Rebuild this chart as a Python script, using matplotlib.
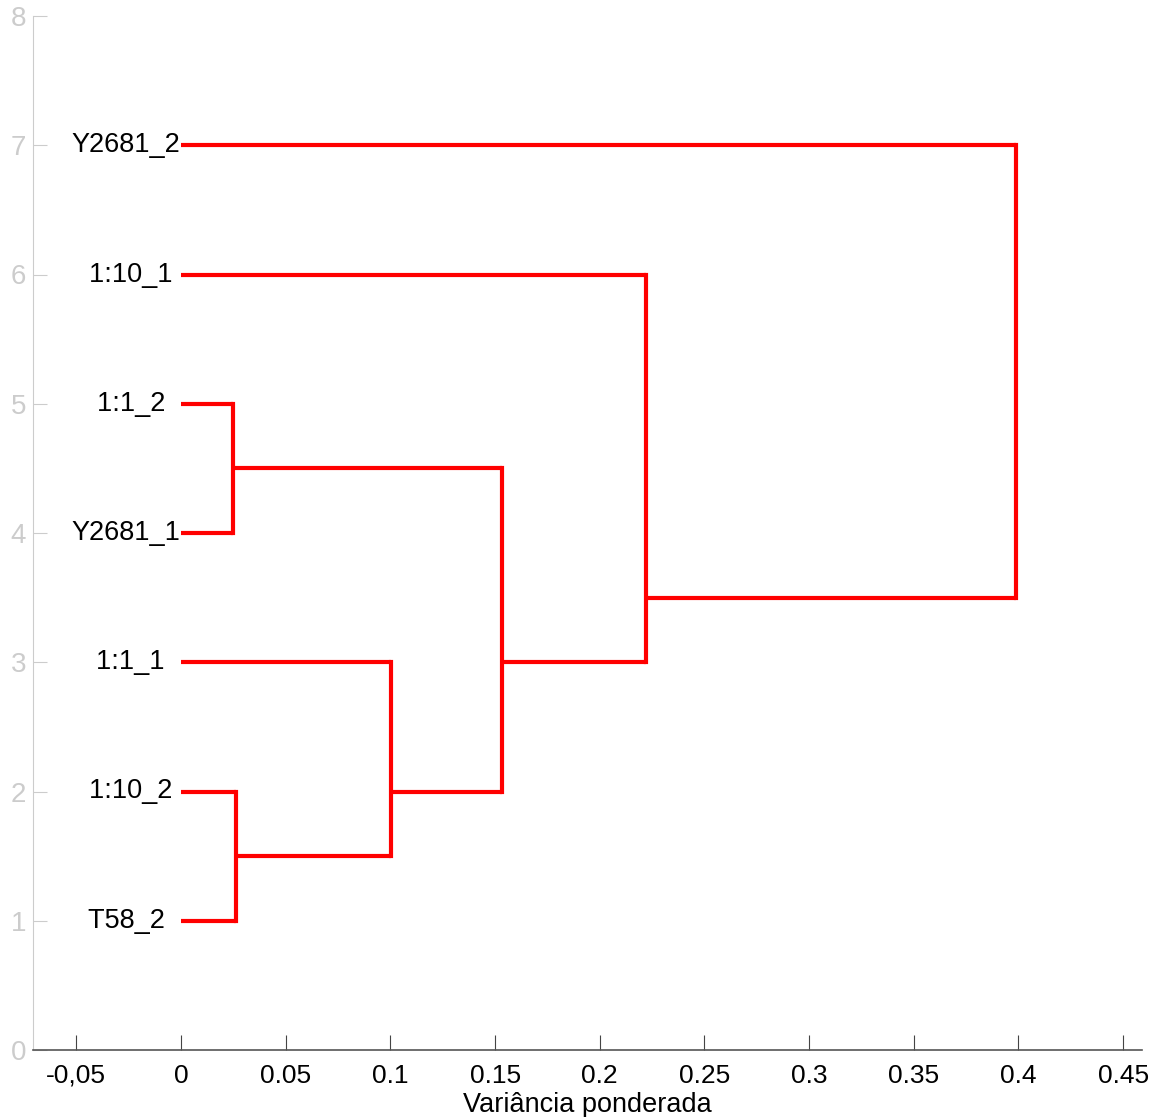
import matplotlib
matplotlib.use("Agg")
import matplotlib.pyplot as plt

plt.rcParams["font.family"] = ["Liberation Sans", "DejaVu Sans"]

# folhas, de baixo para cima (posições 1..7)
leaf_names = ["T58_2", "1:10_2", "1:1_1", "Y2681_1", "1:1_2", "1:10_1", "Y2681_2"]

# agrupamentos: (filho a, filho b, altura); ids >= 7 são clusters formados antes
merge_a = [0, 3, 7, 9, 10, 11]
merge_b = [1, 4, 2, 8, 5, 6]
merge_h = [0.0263, 0.0248, 0.1003, 0.1533, 0.2221, 0.3988]

xticks = [-0.05, 0, 0.05, 0.1, 0.15, 0.2, 0.25, 0.3, 0.35, 0.4, 0.45]
xtick_labels = ["-0,05", "0", "0.05", "0.1", "0.15", "0.2", "0.25", "0.3", "0.35", "0.4", "0.45"]

n = len(leaf_names)
members = {i: [i + 1] for i in range(n)}
height = {i: 0.0 for i in range(n)}

def node_y(k):
    return sum(members[k]) / len(members[k])

fig = plt.figure(figsize=(11.56, 11.17), dpi=100)
ax = fig.add_axes([33 / 1156, 1 - 1050 / 1117, (1142 - 33) / 1156, (1050 - 16) / 1117])

red = "#ff0000"
for j, (a, b, h) in enumerate(zip(merge_a, merge_b, merge_h)):
    k = n + j
    ya, yb = node_y(a), node_y(b)
    ax.plot([height[a], h], [ya, ya], color=red, lw=3, solid_capstyle="butt")
    ax.plot([height[b], h], [yb, yb], color=red, lw=3, solid_capstyle="butt")
    ax.plot([h, h], [ya, yb], color=red, lw=3, solid_capstyle="projecting")
    members[k] = members[a] + members[b]
    height[k] = h

# rótulos das folhas, preenchidos com espaços à direita
for i, name in enumerate(leaf_names):
    ax.text(-0.0005, i + 1, name.ljust(7), ha="right", va="center", fontsize=19.5)

ax.set_xlim(-0.0707, 0.459)
ax.set_ylim(0, 8)
ax.set_xticks(xticks)
ax.set_xticklabels(xtick_labels)
ax.set_yticks(range(9))
ax.tick_params(axis="y", direction="in", length=10, color="#cccccc", labelcolor="#cccccc",
               labelsize=20, pad=5)
ax.tick_params(axis="x", direction="in", length=11, color="#444444", labelcolor="black",
               labelsize=19, pad=10)
for s in ["top", "right"]:
    ax.spines[s].set_visible(False)
ax.spines["left"].set_color("#cccccc")
ax.spines["bottom"].set_color("#555555")
ax.spines["bottom"].set_linewidth(1.2)
ax.set_xlabel("Variância ponderada", fontsize=19.5, labelpad=3)

fig.savefig("out.png", dpi=100)
